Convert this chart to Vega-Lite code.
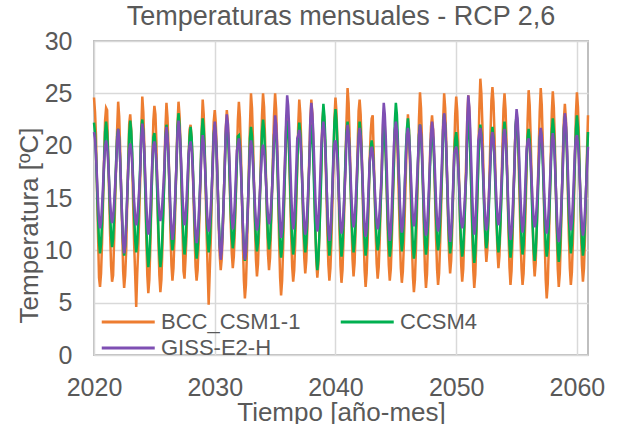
{
"$schema": "https://vega.github.io/schema/vega-lite/v6.json",
"width": 494, "height": 314,
"autosize": {"type": "none"},
"padding": {"left": 94, "top": 41, "right": 32, "bottom": 69},
"background": "white",
"title": {"text": "Temperaturas mensuales - RCP 2,6", "anchor": "middle", "frame": "group", "fontSize": 27, "font": "Liberation Sans", "fontWeight": "normal", "color": "#595959", "baseline": "alphabetic", "offset": 4, "dy": 27},
"data": {"values": [
{"d":"2020-01","B":24.6,"C":22.2,"G":21.3},{"d":"2020-02","B":23.2,"C":21.2,"G":20.6},{"d":"2020-03","B":21.0,"C":19.2,"G":19.1},{"d":"2020-04","B":15.9,"C":16.2,"G":16.9},{"d":"2020-05","B":11.6,"C":13.2,"G":14.7},{"d":"2020-06","B":7.4,"C":10.8,"G":12.9},{"d":"2020-07","B":6.5,"C":9.7,"G":12.1},{"d":"2020-08","B":7.8,"C":10.6,"G":12.7},{"d":"2020-09","B":10.8,"C":12.7,"G":14.3},{"d":"2020-10","B":14.6,"C":15.3,"G":16.2},{"d":"2020-11","B":18.8,"C":18.2,"G":18.4},{"d":"2020-12","B":22.4,"C":21.3,"G":19.9},
{"d":"2021-01","B":23.6,"C":22.3,"G":20.5},{"d":"2021-02","B":23.4,"C":21.3,"G":19.9},{"d":"2021-03","B":19.6,"C":19.4,"G":18.6},{"d":"2021-04","B":15.6,"C":16.5,"G":16.7},{"d":"2021-05","B":11.7,"C":13.7,"G":14.8},{"d":"2021-06","B":8.5,"C":11.4,"G":13.3},{"d":"2021-07","B":7.0,"C":10.3,"G":12.6},{"d":"2021-08","B":7.6,"C":11.1,"G":13.2},{"d":"2021-09","B":11.0,"C":13.2,"G":14.5},{"d":"2021-10","B":14.5,"C":15.7,"G":16.2},{"d":"2021-11","B":18.3,"C":18.5,"G":18.0},{"d":"2021-12","B":21.6,"C":20.9,"G":20.5},
{"d":"2022-01","B":24.2,"C":21.6,"G":21.6},{"d":"2022-02","B":22.8,"C":20.6,"G":20.7},{"d":"2022-03","B":19.9,"C":18.7,"G":18.7},{"d":"2022-04","B":15.7,"C":15.8,"G":15.9},{"d":"2022-05","B":12.3,"C":12.9,"G":13.0},{"d":"2022-06","B":8.0,"C":10.6,"G":10.8},{"d":"2022-07","B":6.4,"C":9.5,"G":9.7},{"d":"2022-08","B":7.6,"C":10.4,"G":10.5},{"d":"2022-09","B":10.0,"C":12.4,"G":12.6},{"d":"2022-10","B":14.4,"C":15.0,"G":15.1},{"d":"2022-11","B":18.5,"C":17.7,"G":17.8},{"d":"2022-12","B":22.1,"C":21.2,"G":19.6},
{"d":"2023-01","B":23.0,"C":22.4,"G":20.2},{"d":"2023-02","B":21.5,"C":21.4,"G":19.6},{"d":"2023-03","B":18.6,"C":19.4,"G":18.3},{"d":"2023-04","B":14.2,"C":16.4,"G":16.5},{"d":"2023-05","B":10.5,"C":13.3,"G":14.6},{"d":"2023-06","B":7.5,"C":10.9,"G":13.1},{"d":"2023-07","B":4.6,"C":9.8,"G":12.4},{"d":"2023-08","B":7.8,"C":10.7,"G":13.0},{"d":"2023-09","B":10.2,"C":12.8,"G":14.3},{"d":"2023-10","B":13.4,"C":15.5,"G":15.9},{"d":"2023-11","B":17.1,"C":18.4,"G":17.7},{"d":"2023-12","B":21.5,"C":21.6,"G":20.8},
{"d":"2024-01","B":24.7,"C":22.5,"G":22.1},{"d":"2024-02","B":23.2,"C":21.4,"G":21.3},{"d":"2024-03","B":20.2,"C":19.1,"G":19.6},{"d":"2024-04","B":15.7,"C":15.7,"G":17.0},{"d":"2024-05","B":11.2,"C":12.4,"G":14.5},{"d":"2024-06","B":7.6,"C":9.7,"G":12.5},{"d":"2024-07","B":5.9,"C":8.4,"G":11.5},{"d":"2024-08","B":7.2,"C":9.4,"G":12.2},{"d":"2024-09","B":10.4,"C":11.8,"G":14.0},{"d":"2024-10","B":14.4,"C":14.8,"G":16.3},{"d":"2024-11","B":18.7,"C":18.0,"G":18.7},{"d":"2024-12","B":22.4,"C":20.8,"G":20.0},
{"d":"2025-01","B":23.8,"C":21.2,"G":20.4},{"d":"2025-02","B":23.0,"C":20.2,"G":19.8},{"d":"2025-03","B":20.5,"C":18.1,"G":18.6},{"d":"2025-04","B":15.3,"C":15.1,"G":16.8},{"d":"2025-05","B":11.0,"C":12.0,"G":14.9},{"d":"2025-06","B":7.6,"C":9.6,"G":13.5},{"d":"2025-07","B":6.0,"C":8.4,"G":12.8},{"d":"2025-08","B":7.2,"C":9.3,"G":13.3},{"d":"2025-09","B":10.3,"C":11.5,"G":14.6},{"d":"2025-10","B":14.0,"C":14.2,"G":16.2},{"d":"2025-11","B":18.1,"C":17.1,"G":18.0},{"d":"2025-12","B":21.7,"C":20.8,"G":20.7},
{"d":"2026-01","B":24.1,"C":22.0,"G":21.8},{"d":"2026-02","B":22.7,"C":21.0,"G":20.9},{"d":"2026-03","B":20.0,"C":19.1,"G":19.2},{"d":"2026-04","B":15.9,"C":16.2,"G":16.6},{"d":"2026-05","B":11.9,"C":13.4,"G":14.0},{"d":"2026-06","B":8.6,"C":11.1,"G":12.0},{"d":"2026-07","B":7.1,"C":10.0,"G":11.0},{"d":"2026-08","B":8.3,"C":10.8,"G":11.8},{"d":"2026-09","B":11.2,"C":12.9,"G":13.6},{"d":"2026-10","B":14.8,"C":15.4,"G":15.9},{"d":"2026-11","B":18.7,"C":18.2,"G":18.3},{"d":"2026-12","B":22.1,"C":21.8,"G":21.2},
{"d":"2027-01","B":24.2,"C":23.1,"G":22.4},{"d":"2027-02","B":22.9,"C":22.0,"G":21.6},{"d":"2027-03","B":20.1,"C":19.9,"G":20.0},{"d":"2027-04","B":16.1,"C":16.6,"G":17.6},{"d":"2027-05","B":12.0,"C":13.4,"G":15.2},{"d":"2027-06","B":8.0,"C":10.8,"G":13.3},{"d":"2027-07","B":7.3,"C":9.6,"G":12.4},{"d":"2027-08","B":9.2,"C":10.6,"G":13.1},{"d":"2027-09","B":11.4,"C":12.8,"G":14.8},{"d":"2027-10","B":14.9,"C":15.7,"G":16.9},{"d":"2027-11","B":18.8,"C":18.8,"G":19.2},{"d":"2027-12","B":21.5,"C":20.8,"G":20.0},
{"d":"2028-01","B":22.0,"C":21.8,"G":20.4},{"d":"2028-02","B":20.8,"C":20.8,"G":19.6},{"d":"2028-03","B":18.4,"C":18.8,"G":18.1},{"d":"2028-04","B":14.9,"C":15.8,"G":15.7},{"d":"2028-05","B":11.3,"C":12.7,"G":13.4},{"d":"2028-06","B":8.4,"C":10.3,"G":11.6},{"d":"2028-07","B":7.1,"C":9.2,"G":10.7},{"d":"2028-08","B":8.1,"C":10.1,"G":11.4},{"d":"2028-09","B":10.7,"C":12.2,"G":13.0},{"d":"2028-10","B":13.8,"C":14.9,"G":15.1},{"d":"2028-11","B":17.2,"C":17.8,"G":17.3},{"d":"2028-12","B":21.5,"C":21.2,"G":20.0},
{"d":"2029-01","B":24.4,"C":22.6,"G":21.0},{"d":"2029-02","B":23.0,"C":21.6,"G":20.3},{"d":"2029-03","B":20.1,"C":19.5,"G":18.8},{"d":"2029-04","B":15.8,"C":16.5,"G":16.6},{"d":"2029-05","B":11.5,"C":13.4,"G":14.4},{"d":"2029-06","B":8.1,"C":11.0,"G":12.6},{"d":"2029-07","B":4.8,"C":9.8,"G":11.8},{"d":"2029-08","B":7.8,"C":10.7,"G":12.4},{"d":"2029-09","B":10.8,"C":12.9,"G":14.0},{"d":"2029-10","B":14.6,"C":15.6,"G":15.9},{"d":"2029-11","B":18.7,"C":18.5,"G":18.1},{"d":"2029-12","B":22.3,"C":21.1,"G":20.9},
{"d":"2030-01","B":23.4,"C":22.0,"G":22.3},{"d":"2030-02","B":22.2,"C":21.0,"G":21.2},{"d":"2030-03","B":19.7,"C":19.0,"G":19.1},{"d":"2030-04","B":16.1,"C":16.0,"G":16.0},{"d":"2030-05","B":12.4,"C":13.0,"G":12.8},{"d":"2030-06","B":9.5,"C":10.6,"G":10.3},{"d":"2030-07","B":8.1,"C":9.5,"G":9.1},{"d":"2030-08","B":9.2,"C":10.4,"G":10.0},{"d":"2030-09","B":11.8,"C":12.5,"G":12.3},{"d":"2030-10","B":15.0,"C":15.1,"G":15.0},{"d":"2030-11","B":18.5,"C":18.0,"G":18.1},{"d":"2030-12","B":21.6,"C":21.0,"G":21.6},
{"d":"2031-01","B":23.4,"C":22.3,"G":23.0},{"d":"2031-02","B":22.2,"C":21.3,"G":22.1},{"d":"2031-03","B":19.8,"C":19.4,"G":20.4},{"d":"2031-04","B":16.2,"C":16.5,"G":17.7},{"d":"2031-05","B":12.5,"C":13.6,"G":15.1},{"d":"2031-06","B":9.7,"C":11.3,"G":13.0},{"d":"2031-07","B":8.3,"C":10.2,"G":12.0},{"d":"2031-08","B":9.4,"C":11.1,"G":12.8},{"d":"2031-09","B":11.9,"C":13.1,"G":14.6},{"d":"2031-10","B":15.1,"C":15.6,"G":17.0},{"d":"2031-11","B":18.6,"C":18.4,"G":19.5},{"d":"2031-12","B":22.4,"C":20.9,"G":20.1},
{"d":"2032-01","B":24.2,"C":21.0,"G":20.7},{"d":"2032-02","B":22.7,"C":20.0,"G":19.8},{"d":"2032-03","B":19.7,"C":18.1,"G":17.9},{"d":"2032-04","B":15.2,"C":15.2,"G":15.1},{"d":"2032-05","B":10.7,"C":12.4,"G":12.4},{"d":"2032-06","B":7.1,"C":10.1,"G":10.1},{"d":"2032-07","B":5.4,"C":9.0,"G":9.1},{"d":"2032-08","B":6.7,"C":9.8,"G":9.9},{"d":"2032-09","B":9.9,"C":11.9,"G":11.9},{"d":"2032-10","B":13.9,"C":14.4,"G":14.3},{"d":"2032-11","B":18.2,"C":17.2,"G":17.0},{"d":"2032-12","B":21.9,"C":20.7,"G":19.8},
{"d":"2033-01","B":25.0,"C":21.8,"G":20.5},{"d":"2033-02","B":23.6,"C":20.9,"G":19.8},{"d":"2033-03","B":20.8,"C":18.9,"G":18.4},{"d":"2033-04","B":16.6,"C":16.1,"G":16.4},{"d":"2033-05","B":12.4,"C":13.2,"G":14.3},{"d":"2033-06","B":9.1,"C":11.0,"G":12.7},{"d":"2033-07","B":7.5,"C":9.9,"G":11.9},{"d":"2033-08","B":8.7,"C":10.7,"G":12.5},{"d":"2033-09","B":11.7,"C":12.8,"G":14.0},{"d":"2033-10","B":15.4,"C":15.3,"G":15.8},{"d":"2033-11","B":19.4,"C":18.0,"G":17.7},{"d":"2033-12","B":22.9,"C":21.3,"G":19.5},
{"d":"2034-01","B":25.0,"C":22.5,"G":20.1},{"d":"2034-02","B":23.7,"C":21.5,"G":19.5},{"d":"2034-03","B":20.9,"C":19.5,"G":18.3},{"d":"2034-04","B":16.9,"C":16.6,"G":16.5},{"d":"2034-05","B":12.8,"C":13.6,"G":14.6},{"d":"2034-06","B":9.6,"C":11.2,"G":13.2},{"d":"2034-07","B":8.1,"C":10.1,"G":12.5},{"d":"2034-08","B":9.3,"C":11.0,"G":13.0},{"d":"2034-09","B":12.2,"C":13.1,"G":14.3},{"d":"2034-10","B":15.7,"C":15.7,"G":15.9},{"d":"2034-11","B":19.6,"C":18.5,"G":17.7},{"d":"2034-12","B":23.0,"C":21.0,"G":21.0},
{"d":"2035-01","B":25.0,"C":22.0,"G":22.9},{"d":"2035-02","B":23.5,"C":21.0,"G":22.0},{"d":"2035-03","B":20.4,"C":19.0,"G":20.1},{"d":"2035-04","B":15.7,"C":15.9,"G":17.3},{"d":"2035-05","B":11.1,"C":12.9,"G":14.5},{"d":"2035-06","B":7.4,"C":10.4,"G":12.3},{"d":"2035-07","B":5.7,"C":9.3,"G":11.2},{"d":"2035-08","B":7.1,"C":10.2,"G":12.0},{"d":"2035-09","B":10.3,"C":12.3,"G":14.0},{"d":"2035-10","B":14.4,"C":15.0,"G":16.5},{"d":"2035-11","B":18.8,"C":17.9,"G":19.2},{"d":"2035-12","B":21.8,"C":21.4,"G":22.6},
{"d":"2036-01","B":23.0,"C":22.4,"G":24.8},{"d":"2036-02","B":21.7,"C":21.4,"G":23.8},{"d":"2036-03","B":19.2,"C":19.3,"G":21.7},{"d":"2036-04","B":15.3,"C":16.3,"G":18.7},{"d":"2036-05","B":11.5,"C":13.2,"G":15.6},{"d":"2036-06","B":8.4,"C":10.8,"G":13.2},{"d":"2036-07","B":7.0,"C":9.6,"G":12.0},{"d":"2036-08","B":8.1,"C":10.5,"G":12.9},{"d":"2036-09","B":10.8,"C":12.7,"G":15.1},{"d":"2036-10","B":14.2,"C":15.4,"G":17.8},{"d":"2036-11","B":17.9,"C":18.3,"G":20.7},{"d":"2036-12","B":22.0,"C":20.9,"G":21.0},
{"d":"2037-01","B":24.4,"C":22.2,"G":21.5},{"d":"2037-02","B":23.1,"C":21.2,"G":20.7},{"d":"2037-03","B":20.4,"C":19.2,"G":19.1},{"d":"2037-04","B":16.4,"C":16.3,"G":16.7},{"d":"2037-05","B":12.5,"C":13.3,"G":14.3},{"d":"2037-06","B":9.3,"C":10.9,"G":12.4},{"d":"2037-07","B":7.8,"C":9.8,"G":11.5},{"d":"2037-08","B":9.0,"C":10.7,"G":12.2},{"d":"2037-09","B":11.8,"C":12.8,"G":13.9},{"d":"2037-10","B":15.3,"C":15.4,"G":16.0},{"d":"2037-11","B":19.1,"C":18.2,"G":18.3},{"d":"2037-12","B":22.4,"C":20.7,"G":22.5},
{"d":"2038-01","B":24.4,"C":22.0,"G":24.1},{"d":"2038-02","B":23.0,"C":20.9,"G":23.1},{"d":"2038-03","B":20.3,"C":18.7,"G":21.2},{"d":"2038-04","B":16.2,"C":15.3,"G":18.2},{"d":"2038-05","B":12.2,"C":12.0,"G":15.2},{"d":"2038-06","B":8.9,"C":9.4,"G":12.9},{"d":"2038-07","B":7.4,"C":8.1,"G":11.8},{"d":"2038-08","B":8.6,"C":9.1,"G":12.7},{"d":"2038-09","B":11.5,"C":11.4,"G":14.8},{"d":"2038-10","B":15.1,"C":14.4,"G":17.3},{"d":"2038-11","B":19.0,"C":17.6,"G":20.2},{"d":"2038-12","B":22.4,"C":22.2,"G":21.5},
{"d":"2039-01","B":23.5,"C":24.0,"G":22.3},{"d":"2039-02","B":22.2,"C":22.8,"G":21.4},{"d":"2039-03","B":19.6,"C":20.5,"G":19.6},{"d":"2039-04","B":15.6,"C":17.0,"G":16.8},{"d":"2039-05","B":11.7,"C":13.6,"G":14.1},{"d":"2039-06","B":8.6,"C":10.8,"G":11.9},{"d":"2039-07","B":7.1,"C":9.5,"G":10.9},{"d":"2039-08","B":8.3,"C":10.5,"G":11.7},{"d":"2039-09","B":11.0,"C":13.0,"G":13.6},{"d":"2039-10","B":14.5,"C":16.0,"G":16.0},{"d":"2039-11","B":18.3,"C":19.4,"G":18.7},{"d":"2039-12","B":22.6,"C":22.3,"G":20.2},
{"d":"2040-01","B":24.6,"C":23.5,"G":20.5},{"d":"2040-02","B":23.2,"C":22.4,"G":19.8},{"d":"2040-03","B":20.4,"C":20.1,"G":18.4},{"d":"2040-04","B":16.1,"C":16.7,"G":16.2},{"d":"2040-05","B":11.9,"C":13.4,"G":14.1},{"d":"2040-06","B":8.5,"C":10.7,"G":12.4},{"d":"2040-07","B":6.9,"C":9.4,"G":11.6},{"d":"2040-08","B":8.1,"C":10.4,"G":12.2},{"d":"2040-09","B":11.2,"C":12.8,"G":13.7},{"d":"2040-10","B":14.9,"C":15.7,"G":15.6},{"d":"2040-11","B":18.9,"C":19.0,"G":17.7},{"d":"2040-12","B":22.5,"C":21.3,"G":20.8},
{"d":"2041-01","B":25.5,"C":22.3,"G":22.0},{"d":"2041-02","B":24.1,"C":21.3,"G":21.2},{"d":"2041-03","B":21.2,"C":19.3,"G":19.7},{"d":"2041-04","B":16.9,"C":16.3,"G":17.3},{"d":"2041-05","B":12.5,"C":13.3,"G":14.9},{"d":"2041-06","B":9.1,"C":10.9,"G":13.1},{"d":"2041-07","B":7.5,"C":9.8,"G":12.2},{"d":"2041-08","B":8.8,"C":10.7,"G":12.9},{"d":"2041-09","B":11.8,"C":12.8,"G":14.6},{"d":"2041-10","B":15.6,"C":15.4,"G":16.6},{"d":"2041-11","B":19.7,"C":18.3,"G":18.9},{"d":"2041-12","B":23.3,"C":20.8,"G":20.8},
{"d":"2042-01","B":24.4,"C":22.3,"G":21.7},{"d":"2042-02","B":23.0,"C":21.3,"G":20.9},{"d":"2042-03","B":20.1,"C":19.2,"G":19.2},{"d":"2042-04","B":15.8,"C":16.2,"G":16.7},{"d":"2042-05","B":11.5,"C":13.1,"G":14.2},{"d":"2042-06","B":8.1,"C":10.7,"G":12.2},{"d":"2042-07","B":6.5,"C":9.5,"G":11.3},{"d":"2042-08","B":7.8,"C":10.4,"G":12.0},{"d":"2042-09","B":10.8,"C":12.6,"G":13.8},{"d":"2042-10","B":14.6,"C":15.3,"G":16.0},{"d":"2042-11","B":18.7,"C":18.2,"G":18.4},{"d":"2042-12","B":21.2,"C":19.8,"G":19.4},
{"d":"2043-01","B":22.6,"C":20.5,"G":19.9},{"d":"2043-02","B":22.9,"C":19.7,"G":19.3},{"d":"2043-03","B":19.5,"C":18.0,"G":18.0},{"d":"2043-04","B":15.4,"C":15.5,"G":16.1},{"d":"2043-05","B":11.7,"C":12.9,"G":14.2},{"d":"2043-06","B":8.7,"C":10.9,"G":12.7},{"d":"2043-07","B":7.3,"C":10.0,"G":12.0},{"d":"2043-08","B":8.4,"C":10.7,"G":12.6},{"d":"2043-09","B":11.0,"C":12.5,"G":13.9},{"d":"2043-10","B":14.3,"C":14.7,"G":15.6},{"d":"2043-11","B":17.9,"C":17.1,"G":17.4},{"d":"2043-12","B":21.0,"C":20.5,"G":22.0},
{"d":"2044-01","B":23.2,"C":22.0,"G":24.1},{"d":"2044-02","B":21.9,"C":21.0,"G":23.0},{"d":"2044-03","B":19.3,"C":19.0,"G":20.9},{"d":"2044-04","B":15.5,"C":15.9,"G":17.8},{"d":"2044-05","B":11.6,"C":12.9,"G":14.6},{"d":"2044-06","B":8.6,"C":10.5,"G":12.1},{"d":"2044-07","B":7.1,"C":9.4,"G":10.9},{"d":"2044-08","B":8.2,"C":10.3,"G":11.8},{"d":"2044-09","B":11.0,"C":12.4,"G":14.1},{"d":"2044-10","B":14.4,"C":15.1,"G":16.8},{"d":"2044-11","B":18.1,"C":18.0,"G":19.9},{"d":"2044-12","B":21.3,"C":22.3,"G":21.5},
{"d":"2045-01","B":22.5,"C":24.1,"G":22.3},{"d":"2045-02","B":21.3,"C":23.0,"G":21.5},{"d":"2045-03","B":18.8,"C":20.7,"G":19.8},{"d":"2045-04","B":15.0,"C":17.3,"G":17.2},{"d":"2045-05","B":11.3,"C":13.9,"G":14.7},{"d":"2045-06","B":8.3,"C":11.2,"G":12.7},{"d":"2045-07","B":6.9,"C":9.9,"G":11.7},{"d":"2045-08","B":8.0,"C":10.9,"G":12.4},{"d":"2045-09","B":10.6,"C":13.3,"G":14.2},{"d":"2045-10","B":13.9,"C":16.3,"G":16.5},{"d":"2045-11","B":17.5,"C":19.6,"G":18.9},{"d":"2045-12","B":20.6,"C":21.6,"G":21.0},
{"d":"2046-01","B":23.0,"C":22.6,"G":21.7},{"d":"2046-02","B":21.6,"C":21.5,"G":21.0},{"d":"2046-03","B":18.9,"C":19.4,"G":19.4},{"d":"2046-04","B":14.8,"C":16.2,"G":17.2},{"d":"2046-05","B":10.8,"C":13.0,"G":14.9},{"d":"2046-06","B":7.5,"C":10.4,"G":13.1},{"d":"2046-07","B":6.0,"C":9.2,"G":12.3},{"d":"2046-08","B":7.2,"C":10.1,"G":13.0},{"d":"2046-09","B":10.1,"C":12.4,"G":14.6},{"d":"2046-10","B":13.7,"C":15.2,"G":16.5},{"d":"2046-11","B":17.6,"C":18.3,"G":18.7},{"d":"2046-12","B":22.5,"C":21.0,"G":20.9},
{"d":"2047-01","B":25.1,"C":22.0,"G":22.0},{"d":"2047-02","B":23.6,"C":21.0,"G":21.2},{"d":"2047-03","B":20.6,"C":19.0,"G":19.5},{"d":"2047-04","B":16.1,"C":16.0,"G":16.9},{"d":"2047-05","B":11.6,"C":13.1,"G":14.4},{"d":"2047-06","B":8.1,"C":10.7,"G":12.4},{"d":"2047-07","B":6.4,"C":9.6,"G":11.4},{"d":"2047-08","B":7.7,"C":10.5,"G":12.1},{"d":"2047-09","B":10.9,"C":12.6,"G":13.9},{"d":"2047-10","B":14.8,"C":15.2,"G":16.2},{"d":"2047-11","B":19.1,"C":18.0,"G":18.6},{"d":"2047-12","B":21.8,"C":20.5,"G":21.1},
{"d":"2048-01","B":22.9,"C":21.6,"G":22.3},{"d":"2048-02","B":21.6,"C":20.7,"G":21.5},{"d":"2048-03","B":19.0,"C":18.8,"G":19.8},{"d":"2048-04","B":15.1,"C":16.0,"G":17.3},{"d":"2048-05","B":11.2,"C":13.2,"G":14.7},{"d":"2048-06","B":8.2,"C":11.0,"G":12.7},{"d":"2048-07","B":6.7,"C":10.0,"G":11.8},{"d":"2048-08","B":7.8,"C":10.8,"G":12.5},{"d":"2048-09","B":10.6,"C":12.8,"G":14.3},{"d":"2048-10","B":14.0,"C":15.2,"G":16.5},{"d":"2048-11","B":17.7,"C":17.9,"G":19.0},{"d":"2048-12","B":22.3,"C":21.5,"G":21.8},
{"d":"2049-01","B":25.0,"C":23.0,"G":23.1},{"d":"2049-02","B":23.6,"C":21.9,"G":22.1},{"d":"2049-03","B":20.9,"C":19.8,"G":20.2},{"d":"2049-04","B":16.7,"C":16.6,"G":17.2},{"d":"2049-05","B":12.6,"C":13.4,"G":14.2},{"d":"2049-06","B":9.4,"C":10.9,"G":11.9},{"d":"2049-07","B":7.8,"C":9.7,"G":10.8},{"d":"2049-08","B":9.0,"C":10.6,"G":11.7},{"d":"2049-09","B":11.9,"C":12.9,"G":13.8},{"d":"2049-10","B":15.5,"C":15.7,"G":16.3},{"d":"2049-11","B":19.5,"C":18.7,"G":19.2},{"d":"2049-12","B":22.9,"C":20.6,"G":19.6},
{"d":"2050-01","B":24.7,"C":21.3,"G":19.9},{"d":"2050-02","B":23.3,"C":20.4,"G":19.3},{"d":"2050-03","B":20.5,"C":18.4,"G":18.0},{"d":"2050-04","B":16.2,"C":15.6,"G":16.2},{"d":"2050-05","B":12.0,"C":12.7,"G":14.3},{"d":"2050-06","B":8.6,"C":10.5,"G":12.8},{"d":"2050-07","B":7.0,"C":9.4,"G":12.1},{"d":"2050-08","B":8.2,"C":10.2,"G":12.6},{"d":"2050-09","B":11.3,"C":12.3,"G":14.0},{"d":"2050-10","B":15.0,"C":14.8,"G":15.6},{"d":"2050-11","B":19.0,"C":17.5,"G":17.4},{"d":"2050-12","B":22.6,"C":21.2,"G":22.5},
{"d":"2051-01","B":24.8,"C":22.5,"G":24.8},{"d":"2051-02","B":23.3,"C":21.4,"G":23.7},{"d":"2051-03","B":20.4,"C":19.2,"G":21.6},{"d":"2051-04","B":16.0,"C":15.9,"G":18.4},{"d":"2051-05","B":11.6,"C":12.6,"G":15.2},{"d":"2051-06","B":8.1,"C":10.0,"G":12.7},{"d":"2051-07","B":6.4,"C":8.8,"G":11.5},{"d":"2051-08","B":7.7,"C":9.8,"G":12.4},{"d":"2051-09","B":10.8,"C":12.1,"G":14.7},{"d":"2051-10","B":14.7,"C":15.0,"G":17.5},{"d":"2051-11","B":18.9,"C":18.1,"G":20.5},{"d":"2051-12","B":23.5,"C":20.9,"G":21.2},
{"d":"2052-01","B":26.4,"C":22.0,"G":21.7},{"d":"2052-02","B":25.0,"C":21.1,"G":20.9},{"d":"2052-03","B":22.2,"C":19.2,"G":19.4},{"d":"2052-04","B":18.0,"C":16.3,"G":17.0},{"d":"2052-05","B":13.8,"C":13.5,"G":14.6},{"d":"2052-06","B":10.5,"C":11.3,"G":12.8},{"d":"2052-07","B":8.9,"C":10.2,"G":11.9},{"d":"2052-08","B":10.1,"C":11.0,"G":12.6},{"d":"2052-09","B":13.1,"C":13.0,"G":14.3},{"d":"2052-10","B":16.8,"C":15.5,"G":16.3},{"d":"2052-11","B":20.8,"C":18.2,"G":18.6},{"d":"2052-12","B":24.3,"C":20.6,"G":20.7},
{"d":"2053-01","B":25.6,"C":21.8,"G":21.3},{"d":"2053-02","B":24.2,"C":20.8,"G":20.6},{"d":"2053-03","B":21.5,"C":18.9,"G":19.2},{"d":"2053-04","B":17.3,"C":16.0,"G":17.0},{"d":"2053-05","B":13.1,"C":13.2,"G":14.9},{"d":"2053-06","B":9.9,"C":10.9,"G":13.2},{"d":"2053-07","B":8.3,"C":9.8,"G":12.4},{"d":"2053-08","B":9.5,"C":10.6,"G":13.0},{"d":"2053-09","B":12.5,"C":12.7,"G":14.5},{"d":"2053-10","B":16.1,"C":15.2,"G":16.4},{"d":"2053-11","B":20.1,"C":18.0,"G":18.5},{"d":"2053-12","B":23.5,"C":21.2,"G":20.9},
{"d":"2054-01","B":25.0,"C":22.3,"G":21.6},{"d":"2054-02","B":23.5,"C":21.3,"G":20.8},{"d":"2054-03","B":20.6,"C":19.2,"G":19.1},{"d":"2054-04","B":16.2,"C":16.1,"G":16.5},{"d":"2054-05","B":11.8,"C":12.9,"G":14.0},{"d":"2054-06","B":8.4,"C":10.5,"G":12.0},{"d":"2054-07","B":6.7,"C":9.3,"G":11.0},{"d":"2054-08","B":8.0,"C":10.2,"G":11.7},{"d":"2054-09","B":11.1,"C":12.4,"G":13.5},{"d":"2054-10","B":14.9,"C":15.2,"G":15.8},{"d":"2054-11","B":19.1,"C":18.1,"G":18.2},{"d":"2054-12","B":21.6,"C":21.8,"G":21.8},
{"d":"2055-01","B":22.8,"C":23.0,"G":23.5},{"d":"2055-02","B":21.5,"C":21.9,"G":22.6},{"d":"2055-03","B":18.9,"C":19.8,"G":20.7},{"d":"2055-04","B":15.1,"C":16.6,"G":17.8},{"d":"2055-05","B":11.2,"C":13.4,"G":15.0},{"d":"2055-06","B":8.2,"C":10.8,"G":12.8},{"d":"2055-07","B":6.7,"C":9.6,"G":11.7},{"d":"2055-08","B":7.8,"C":10.5,"G":12.5},{"d":"2055-09","B":10.6,"C":12.8,"G":14.5},{"d":"2055-10","B":14.0,"C":15.6,"G":17.0},{"d":"2055-11","B":17.7,"C":18.7,"G":19.7},{"d":"2055-12","B":22.4,"C":20.8,"G":20.4},
{"d":"2056-01","B":25.3,"C":21.6,"G":20.7},{"d":"2056-02","B":23.9,"C":20.6,"G":20.0},{"d":"2056-03","B":21.0,"C":18.6,"G":18.7},{"d":"2056-04","B":16.8,"C":15.6,"G":16.6},{"d":"2056-05","B":12.5,"C":12.5,"G":14.6},{"d":"2056-06","B":9.1,"C":10.1,"G":13.0},{"d":"2056-07","B":7.5,"C":9.0,"G":12.2},{"d":"2056-08","B":8.8,"C":9.9,"G":12.8},{"d":"2056-09","B":11.8,"C":12.0,"G":14.2},{"d":"2056-10","B":15.5,"C":14.7,"G":16.0},{"d":"2056-11","B":19.6,"C":17.6,"G":18.0},{"d":"2056-12","B":23.2,"C":20.6,"G":20.8},
{"d":"2057-01","B":25.5,"C":21.5,"G":21.7},{"d":"2057-02","B":23.9,"C":20.5,"G":20.9},{"d":"2057-03","B":20.7,"C":18.6,"G":19.3},{"d":"2057-04","B":15.9,"C":15.7,"G":16.9},{"d":"2057-05","B":11.0,"C":12.8,"G":14.4},{"d":"2057-06","B":7.2,"C":10.5,"G":12.5},{"d":"2057-07","B":5.4,"C":9.4,"G":11.6},{"d":"2057-08","B":6.8,"C":10.2,"G":12.3},{"d":"2057-09","B":10.2,"C":12.3,"G":14.0},{"d":"2057-10","B":14.5,"C":14.8,"G":16.1},{"d":"2057-11","B":19.1,"C":17.6,"G":18.5},{"d":"2057-12","B":23.1,"C":21.2,"G":20.5},
{"d":"2058-01","B":25.2,"C":22.6,"G":21.2},{"d":"2058-02","B":23.7,"C":21.5,"G":20.4},{"d":"2058-03","B":20.7,"C":19.3,"G":18.7},{"d":"2058-04","B":16.2,"C":16.0,"G":16.2},{"d":"2058-05","B":11.7,"C":12.7,"G":13.7},{"d":"2058-06","B":8.2,"C":10.1,"G":11.7},{"d":"2058-07","B":6.5,"C":8.9,"G":10.8},{"d":"2058-08","B":7.8,"C":9.9,"G":11.5},{"d":"2058-09","B":11.0,"C":12.2,"G":13.3},{"d":"2058-10","B":14.9,"C":15.1,"G":15.5},{"d":"2058-11","B":19.2,"C":18.2,"G":17.9},{"d":"2058-12","B":22.4,"C":21.6,"G":21.6},
{"d":"2059-01","B":24.0,"C":22.8,"G":23.1},{"d":"2059-02","B":22.6,"C":21.8,"G":22.2},{"d":"2059-03","B":19.9,"C":19.7,"G":20.4},{"d":"2059-04","B":15.7,"C":16.5,"G":17.7},{"d":"2059-05","B":11.5,"C":13.4,"G":15.0},{"d":"2059-06","B":8.3,"C":10.9,"G":12.9},{"d":"2059-07","B":6.7,"C":9.7,"G":11.9},{"d":"2059-08","B":7.9,"C":10.6,"G":12.7},{"d":"2059-09","B":10.9,"C":12.8,"G":14.6},{"d":"2059-10","B":14.5,"C":15.6,"G":16.9},{"d":"2059-11","B":18.5,"C":18.6,"G":19.5},{"d":"2059-12","B":23.0,"C":21.6,"G":20.7},
{"d":"2060-01","B":25.1,"C":22.9,"G":21.0},{"d":"2060-02","B":23.7,"C":21.8,"G":20.2},{"d":"2060-03","B":20.8,"C":19.7,"G":18.7},{"d":"2060-04","B":16.4,"C":16.5,"G":16.4},{"d":"2060-05","B":12.1,"C":13.3,"G":14.1},{"d":"2060-06","B":8.6,"C":10.7,"G":12.3},{"d":"2060-07","B":7.0,"C":9.5,"G":11.4},{"d":"2060-08","B":8.3,"C":10.4,"G":12.1},{"d":"2060-09","B":11.3,"C":12.7,"G":13.7},{"d":"2060-10","B":15.2,"C":15.5,"G":15.7},{"d":"2060-11","B":19.3,"C":18.6,"G":17.9},{"d":"2060-12","B":22.9,"C":21.3,"G":19.9}
]},
"transform": [{"fold": ["B", "C", "G"], "as": ["k", "v"]}],
"mark": {"type": "line", "strokeWidth": 2.5, "interpolate": "linear"},
"encoding": {
  "x": {"field": "d", "type": "temporal",
    "scale": {"domain": [{"year": 2020, "month": 1, "date": 1}, {"year": 2060, "month": 12, "date": 1}]},
    "axis": {"values": [{"year": 2020}, {"year": 2030}, {"year": 2040}, {"year": 2050}, {"year": 2060}], "format": "%Y", "title": "Tiempo [año-mes]", "labelBaseline": "alphabetic", "labelPadding": 40, "labelFlush": false, "labelOverlap": false, "titleY": 65, "titleBaseline": "alphabetic"}},
  "y": {"field": "v", "type": "quantitative",
    "scale": {"domain": [0, 30], "nice": false},
    "axis": {"values": [0, 5, 10, 15, 20, 25, 30], "title": "Temperatura [ºC]", "labelPadding": 22, "titleX": -57, "titleY": 184, "titleBaseline": "alphabetic", "titleAlign": "center", "titleAngle": -90}},
  "color": {"field": "k", "type": "nominal",
    "scale": {"domain": ["B", "C", "G"], "range": ["#ED7D31", "#00B050", "#7E4FB3"]},
    "legend": {"orient": "none", "legendX": 6, "legendY": 266, "columns": 2, "values": ["B", "G", "C"], "title": null, "symbolType": "M-1,0H3", "symbolSize": 702, "symbolStrokeWidth": 3, "labelFontSize": 22, "labelFont": "Liberation Sans", "labelColor": "#595959", "columnPadding": 33, "rowPadding": 0, "labelOffset": 31, "padding": 0,
      "labelExpr": "datum.label == 'B' ? 'BCC_CSM1-1' : datum.label == 'C' ? 'CCSM4' : 'GISS-E2-H'"}}
},
"config": {
  "view": {"stroke": "#BFBFBF", "strokeWidth": 2},
  "axis": {"gridColor": "#D9D9D9", "gridWidth": 1.5, "domain": false, "ticks": false, "labelColor": "#595959", "titleColor": "#595959", "labelFont": "Liberation Sans", "titleFont": "Liberation Sans", "titleFontWeight": "normal", "labelFontSize": 25, "titleFontSize": 26}
}
}
